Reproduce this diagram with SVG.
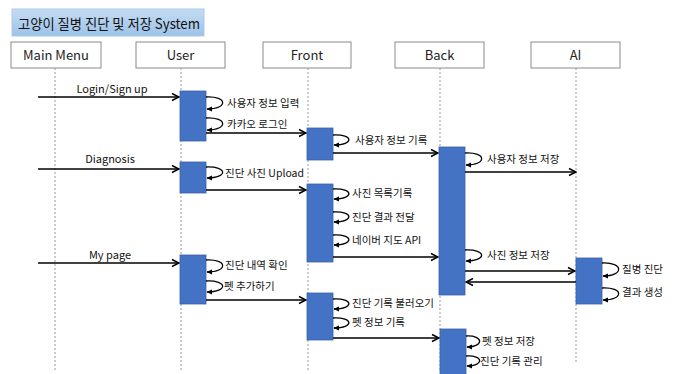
<svg xmlns="http://www.w3.org/2000/svg" width="676" height="374" viewBox="0 0 676 374">
<defs>
<linearGradient id="tg" x1="0" y1="0" x2="0" y2="1">
<stop offset="0" stop-color="#c5dcf2"/>
<stop offset="1" stop-color="#9cc2e8"/>
</linearGradient>
<marker id="arr" markerWidth="10" markerHeight="10" refX="9" refY="5" orient="auto" markerUnits="userSpaceOnUse">
<path d="M2,1.5 L9,5 L2,8.5" fill="none" stroke="#000" stroke-width="1.5"/>
</marker>
<marker id="sa" markerWidth="6" markerHeight="6" refX="5" refY="3" orient="auto" markerUnits="userSpaceOnUse">
<path d="M0,0.5 L5.5,3 L0,5.5 z" fill="#000"/>
</marker>
</defs>
<style>
text{font-family:"Noto Sans CJK KR","Noto Sans",sans-serif;fill:#111;}
.hd{fill:#fff;stroke:#8a8a8a;stroke-width:1;}
.hdt{font-size:13px;text-anchor:middle;fill:#222;}
.ll{stroke:#9a9a9a;stroke-width:1;stroke-dasharray:2,2;fill:none;}
.bar{fill:#4472c4;stroke:#3a62a8;stroke-width:0.8;}
.msg{stroke:#000;stroke-width:1.6;fill:none;marker-end:url(#arr);}
.loop{stroke:#000;stroke-width:1.3;fill:none;marker-end:url(#sa);}
.lb{font-size:10.5px;}
.ml{font-size:11px;text-anchor:middle;}
</style>
<rect width="676" height="374" fill="#fff"/>
<g id="title">
<rect x="12" y="9" width="192" height="27" fill="url(#tg)" stroke="#a9c9e8"/>
<text x="18" y="28.5" textLength="182" lengthAdjust="spacingAndGlyphs" style="font-size:14px">고양이 질병 진단 및 저장 System</text>
</g>
<g id="main-menu">
<rect class="hd" x="11" y="42" width="90" height="26"/>
<text class="hdt" x="56" y="59.5">Main Menu</text>
<line class="ll" x1="55" y1="68" x2="55" y2="372"/>
</g>
<g id="user">
<rect class="hd" x="136" y="42" width="89" height="26"/>
<text class="hdt" x="180.5" y="59.5">User</text>
<line class="ll" x1="181" y1="68" x2="181" y2="372"/>
<rect class="bar" x="180" y="91" width="26" height="50"/>
<rect class="bar" x="180" y="162" width="26" height="31"/>
<rect class="bar" x="180" y="255" width="26" height="49"/>
</g>
<g id="front">
<rect class="hd" x="263" y="42" width="88" height="26"/>
<text class="hdt" x="307" y="59.5">Front</text>
<line class="ll" x1="308" y1="68" x2="308" y2="372"/>
<rect class="bar" x="307" y="128" width="26" height="32"/>
<rect class="bar" x="307" y="184" width="26" height="78"/>
<rect class="bar" x="307" y="293" width="26" height="47"/>
</g>
<g id="back">
<rect class="hd" x="395" y="42" width="89" height="26"/>
<text class="hdt" x="439.5" y="59.5">Back</text>
<line class="ll" x1="440" y1="68" x2="440" y2="372"/>
<rect class="bar" x="439" y="147" width="26" height="148"/>
<rect class="bar" x="440" y="329" width="26" height="46"/>
</g>
<g id="ai">
<rect class="hd" x="531" y="42" width="89" height="26"/>
<text class="hdt" x="575.5" y="59.5">AI</text>
<line class="ll" x1="576" y1="68" x2="576" y2="362"/>
<rect class="bar" x="576" y="258" width="26" height="46"/>
</g>
<g id="connectors">
<path class="msg" d="M38,97 H179"/>
<path class="msg" d="M206,133 H306"/>
<path class="msg" d="M333,153 H438"/>
<path class="msg" d="M465,172 H576"/>
<path class="msg" d="M38,169 H179"/>
<path class="msg" d="M206,190 H306"/>
<path class="msg" d="M333,257 H438"/>
<path class="msg" d="M465,271 H575"/>
<path class="msg" d="M576,282 H466"/>
<path class="msg" d="M38,263 H179"/>
<path class="msg" d="M206,300 H306"/>
<path class="msg" d="M333,338 H439"/>
<path class="loop" d="M206,97 C228,96 228,109 207,109"/>
<path class="loop" d="M206,118 C228,117 228,130 207,130"/>
<path class="loop" d="M206,167 C228,166 228,178 207,178"/>
<path class="loop" d="M206,260 C228,259 228,272 207,272"/>
<path class="loop" d="M206,281 C228,280 228,292 207,292"/>
<path class="loop" d="M333,135 C354,134 354,145 334,145"/>
<path class="loop" d="M333,189 C354,188 354,199 334,199"/>
<path class="loop" d="M333,212 C354,211 354,222 334,222"/>
<path class="loop" d="M333,235 C354,234 354,245 334,245"/>
<path class="loop" d="M333,299 C354,298 354,309 334,309"/>
<path class="loop" d="M333,318 C354,317 354,328 334,328"/>
<path class="loop" d="M465,153 C487,152 487,165 466,165"/>
<path class="loop" d="M465,250 C487,249 487,261 466,261"/>
<path class="loop" d="M466,336 C484,335 484,347 467,347"/>
<path class="loop" d="M466,356 C484,355 484,366 467,366"/>
<path class="loop" d="M602,263 C624,262 624,276 603,276"/>
<path class="loop" d="M602,288 C624,287 624,300 603,300"/>
</g>
<g id="labels">
<text class="ml" x="112" y="93">Login/Sign up</text>
<text class="ml" x="110" y="163">Diagnosis</text>
<text class="ml" x="110" y="259">My page</text>
<text class="lb" x="227" y="107">사용자 정보 입력</text>
<text class="lb" x="227" y="128">카카오 로그인</text>
<text class="lb" x="225" y="177">진단 사진 Upload</text>
<text class="lb" x="225" y="269">진단 내역 확인</text>
<text class="lb" x="224" y="290">펫 추가하기</text>
<text class="lb" x="355" y="144">사용자 정보 기록</text>
<text class="lb" x="352" y="197">사진 목록기록</text>
<text class="lb" x="352" y="221">진단 결과 전달</text>
<text class="lb" x="352" y="244">네이버 지도 API</text>
<text class="lb" x="352" y="307">진단 기록 불러오기</text>
<text class="lb" x="352" y="326">펫 정보 기록</text>
<text class="lb" x="487" y="163">사용자 정보 저장</text>
<text class="lb" x="487" y="259">사진 정보 저장</text>
<text class="lb" x="482" y="345">펫 정보 저장</text>
<text class="lb" x="480" y="365">진단 기록 관리</text>
<text class="lb" x="622" y="273">질병 진단</text>
<text class="lb" x="622" y="296">결과 생성</text>
</g>
</svg>
